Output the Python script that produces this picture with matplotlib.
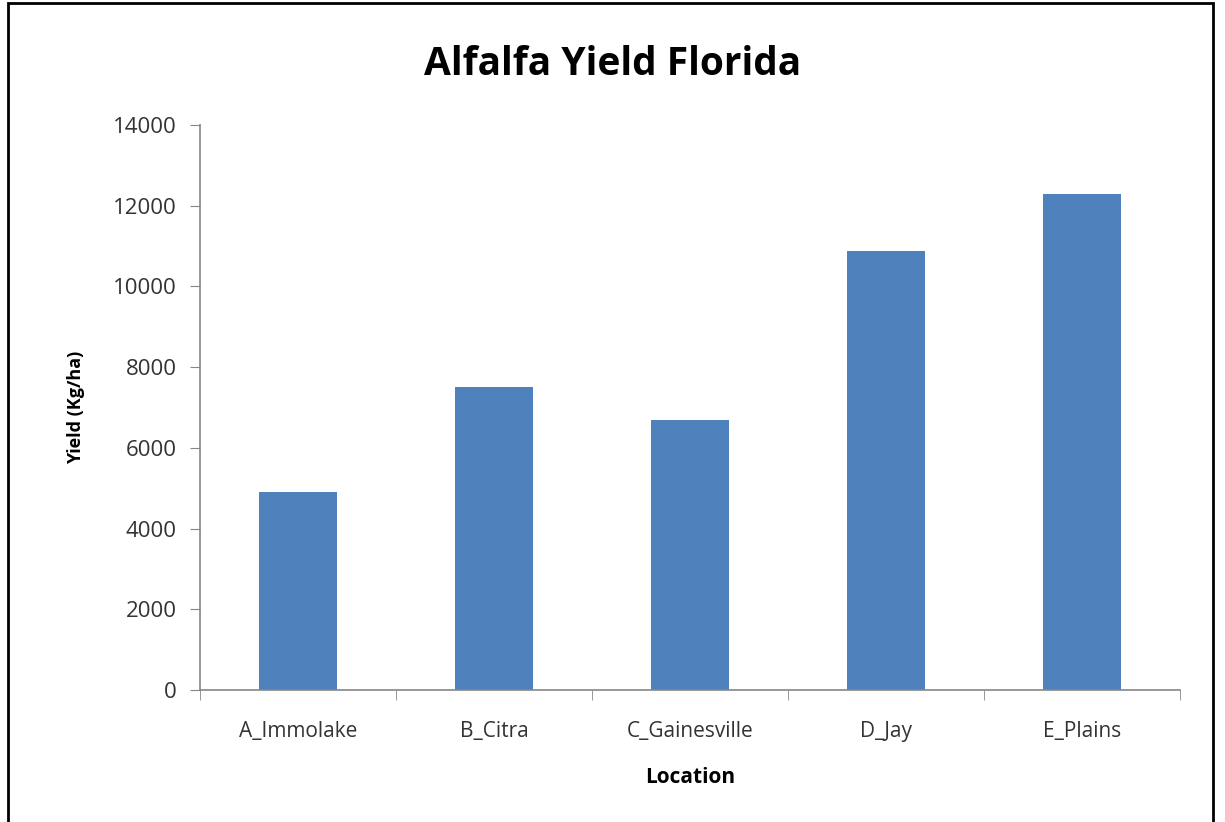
import matplotlib.pyplot as plt
import numpy as np

locations = ['A_Immolake', 'B_Citra', 'C_Gainesville', 'D_Jay', 'E_Plains']
yields = [4900, 7500, 6700, 10870, 12300]
yticks = [0, 2000, 4000, 6000, 8000, 10000, 12000, 14000]

plt.rcParams['font.family'] = ['Open Sans', 'DejaVu Sans']

fig = plt.figure(figsize=(12.25, 8.22), dpi=100)
ax = fig.add_axes([200 / 1225, 1 - 690 / 822, 980 / 1225, 565 / 822])

x = np.arange(len(locations))
ax.bar(x, yields, width=0.4, color='#4F81BD')

ax.set_xlim(-0.5, len(locations) - 0.5)
ax.set_ylim(0, 14000)
ax.set_yticks(yticks)
ax.set_xticks(x)
ax.set_xticklabels(locations, fontsize=15, color='#333333')
ax.set_xticks(np.arange(-0.5, len(locations)), minor=True)
ax.tick_params(axis='x', which='major', length=0, pad=22)
ax.tick_params(axis='x', which='minor', length=7, color='#868686', direction='out')
ax.tick_params(axis='y', labelsize=16, labelcolor='#333333', length=7, color='#868686', pad=10)

for side in ['top', 'right']:
    ax.spines[side].set_visible(False)
for side in ['left', 'bottom']:
    ax.spines[side].set_color('#868686')
    ax.spines[side].set_linewidth(1.2)

ax.set_xlabel('Location', fontsize=15, fontweight='bold', labelpad=18)
ax.set_ylabel('Yield (Kg/ha)', fontsize=13, fontweight='bold', labelpad=20)
fig.suptitle('Alfalfa Yield Florida', fontsize=28, fontweight='bold', y=0.945)

# outer frame
frame = plt.Rectangle((8 / 1225, -0.01), 1205 / 1225, 1 - 3 / 822 + 0.01, transform=fig.transFigure,
                      fill=False, edgecolor='black', linewidth=2)
fig.add_artist(frame)

fig.savefig('out.png', dpi=100)
